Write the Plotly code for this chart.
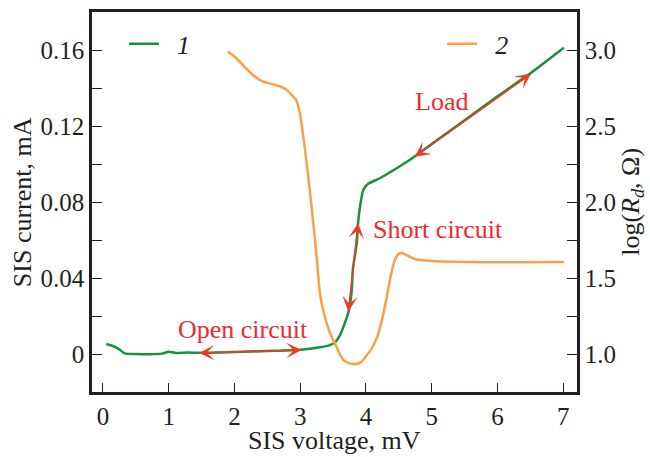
import plotly.graph_objects as go

# ---- data ----
v_iv = [0.05, 0.15, 0.25, 0.33, 0.5, 0.7, 0.9, 1.0, 1.1, 1.3, 1.5, 2.0, 2.5, 3.0, 3.3,
        3.45, 3.53, 3.6, 3.65, 3.73, 3.78, 3.80, 3.86, 3.88, 3.91, 3.96, 4.03, 4.21,
        4.67, 4.74, 5.0, 5.5, 6.0, 6.5, 7.01]
i_iv = [0.0053, 0.0042, 0.0024, 0.0003, 0.0, -0.0001, 0.0002, 0.0012, 0.0006, 0.0008,
        0.0006, 0.0010, 0.0016, 0.0023, 0.0036, 0.0047, 0.0061, 0.0095, 0.0137, 0.0216,
        0.0321, 0.0443, 0.0584, 0.0689, 0.0776, 0.0864, 0.0895, 0.0925, 0.1022, 0.1039,
        0.1105, 0.1230, 0.1356, 0.1477, 0.1612]

v_rd = [1.90, 2.03, 2.15, 2.28, 2.42, 2.56, 2.70, 2.79, 2.88, 2.94, 3.00, 3.05, 3.10,
        3.15, 3.20, 3.25, 3.30, 3.36, 3.42, 3.48, 3.54, 3.60, 3.66, 3.74, 3.84, 3.92,
        4.00, 4.08, 4.16, 4.23, 4.31, 4.38, 4.44, 4.50, 4.55, 4.62, 4.74, 5.0, 5.5,
        6.0, 6.5, 7.01]
log_rd = [2.99, 2.946, 2.89, 2.836, 2.795, 2.777, 2.760, 2.738, 2.70, 2.67, 2.57, 2.42,
          2.25, 2.06, 1.86, 1.64, 1.40, 1.27, 1.18, 1.11, 1.06, 1.00, 0.96, 0.94, 0.934,
          0.945, 0.985, 1.03, 1.10, 1.20, 1.36, 1.52, 1.62, 1.66, 1.665, 1.65, 1.625,
          1.612, 1.606, 1.603, 1.604, 1.605]

x_ticks = [0, 1, 2, 3, 4, 5, 6, 7]
yl_ticks = [0, 0.04, 0.08, 0.12, 0.16]
yl_labels = ["0", "0.04", "0.08", "0.12", "0.16"]
yr_ticks = [1.0, 1.5, 2.0, 2.5, 3.0]
yr_labels = ["1.0", "1.5", "2.0", "2.5", "3.0"]

x_title = "SIS voltage, mV"
yl_title = "SIS current, mA"
yr_title = "log(<i>R</i><sub><i>d</i></sub>, Ω)"

# regime arrows: (V_start, I_start, V_end, I_end)
arrow_names = ["Open circuit", "Short circuit", "Load"]
arrow_v0 = [1.44, 3.73, 4.72]
arrow_i0 = [0.0005, 0.0216, 0.1033]
arrow_v1 = [3.02, 3.88, 6.51]
arrow_i1 = [0.0021, 0.0689, 0.1475]
label_v = [2.125, 5.09, 5.15]
label_i = [0.0128, 0.0653, 0.1327]

FONT = "Liberation Serif"
GREEN = "#17923f"
ORANGE = "#f9a04a"
RED = "#ee3a24"
TXT = "#ee2a2e"
INK = "#231f20"

fig = go.Figure()
fig.add_trace(go.Scatter(x=v_iv, y=i_iv, mode="lines", name="\u00a0\u00a01",
                         line=dict(color=GREEN, width=2.5, shape="spline", smoothing=0.5),
                         legend="legend"))
fig.add_trace(go.Scatter(x=v_rd, y=log_rd, mode="lines", name="\u00a0\u00a02", yaxis="y2",
                         line=dict(color=ORANGE, width=2.5, shape="spline", smoothing=0.6),
                         legend="legend2"))

annotations = []
for k in range(3):
    annotations.append(dict(x=arrow_v1[k], y=arrow_i1[k], ax=arrow_v0[k], ay=arrow_i0[k],
                            xref="x", yref="y", axref="x", ayref="y", text="",
                            showarrow=True, arrowhead=3, startarrowhead=3,
                            arrowside="end+start", arrowsize=1.7, startarrowsize=1.7,
                            arrowwidth=1.5, arrowcolor=RED))
    annotations.append(dict(x=label_v[k], y=label_i[k], xref="x", yref="y",
                            text=arrow_names[k], showarrow=False,
                            font=dict(family=FONT, size=26, color=TXT)))

# axis titles as paper-anchored text
annotations.append(dict(text=x_title, xref="paper", yref="paper", x=0.501, y=-0.128,
                        xanchor="center", yanchor="middle", showarrow=False,
                        font=dict(family=FONT, size=26, color=INK)))
annotations.append(dict(text=yl_title, xref="paper", yref="paper", x=-0.144, y=0.5,
                        xanchor="center", yanchor="middle", textangle=-90, showarrow=False,
                        font=dict(family=FONT, size=26, color=INK)))
annotations.append(dict(text=yr_title, xref="paper", yref="paper", x=1.113, y=0.5,
                        xanchor="center", yanchor="middle", textangle=-90, showarrow=False,
                        font=dict(family=FONT, size=26, color=INK)))

fig.update_layout(
    width=650, height=457,
    margin=dict(l=92, r=73, t=12, b=65),
    paper_bgcolor="white", plot_bgcolor="white",
    font=dict(family=FONT, size=25, color=INK),
    showlegend=True,
    legend=dict(x=0.066, y=0.916, xanchor="left", yanchor="middle",
                bgcolor="rgba(0,0,0,0)", font=dict(family=FONT, size=26, style="italic")),
    legend2=dict(x=0.722, y=0.916, xanchor="left", yanchor="middle",
                 bgcolor="rgba(0,0,0,0)", font=dict(family=FONT, size=26, style="italic")),
    annotations=annotations,
    xaxis=dict(range=[-0.167, 7.21], tickvals=x_ticks, ticks="inside", ticklen=9,
               tickwidth=1.2, tickcolor=INK, showline=True, linewidth=2.5,
               linecolor=INK, mirror=True, showgrid=False, zeroline=False, automargin=False),
    yaxis=dict(range=[-0.02, 0.18], tickvals=yl_ticks, ticktext=yl_labels, ticks="inside",
               ticklen=10, tickwidth=1.2, tickcolor=INK, showline=True, linewidth=2.5,
               linecolor=INK, showgrid=False, zeroline=False, automargin=False,
               minor=dict(dtick=0.02, tick0=0, ticks="inside", ticklen=10, tickwidth=1.2,
                          tickcolor=INK)),
    yaxis2=dict(range=[0.75, 3.25], overlaying="y", side="right", tickvals=yr_ticks,
                ticktext=yr_labels, ticks="inside", ticklen=10, tickwidth=1.2,
                tickcolor=INK, showline=True, linewidth=2.5, linecolor=INK,
                showgrid=False, zeroline=False, automargin=False,
                minor=dict(dtick=0.25, tick0=0.75, ticks="inside", ticklen=10, tickwidth=1.2,
                           tickcolor=INK)),
)

fig.write_html("out.html", config={"displayModeBar": False},
               post_script="document.body.style.margin='0px';")
